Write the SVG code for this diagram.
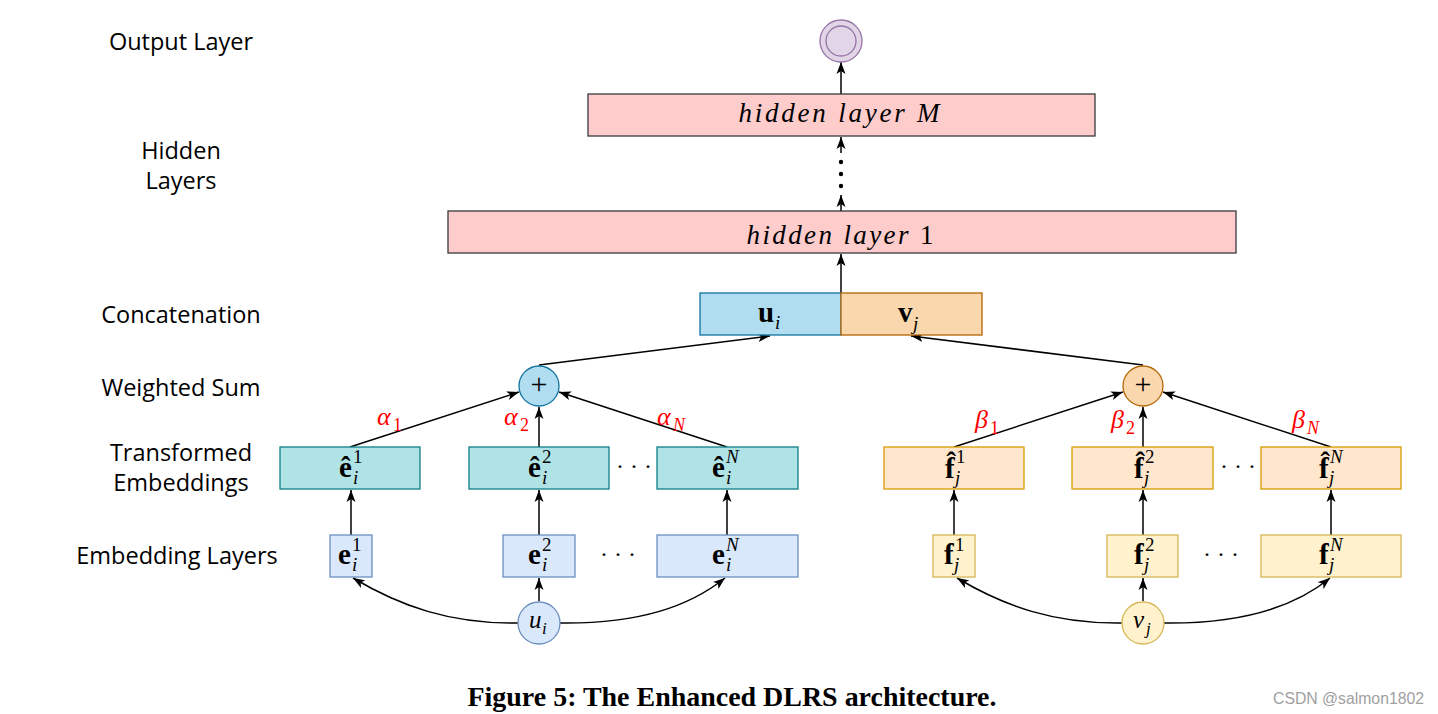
<svg xmlns="http://www.w3.org/2000/svg" width="1438" height="714" viewBox="0 0 1438 714">
<style>
.lbl{font-family:"Open Sans","Noto Sans",sans-serif;font-size:23.5px;text-anchor:middle;fill:#000}
.m{font-family:"Liberation Serif",serif;fill:#000}
.b{font-weight:bold}
.it{font-style:italic}
.red{fill:#ff0000}
.edge{stroke:#000;stroke-width:1.5;fill:none;marker-end:url(#arr)}
.hid{fill:#ffcccc;stroke:#36393d;stroke-width:1.3}
.emb{fill:#dae8fc;stroke:#6c8ebf;stroke-width:1.3}
.embf{fill:#fff2cc;stroke:#d6b656;stroke-width:1.3}
.tr{fill:#b0e3e6;stroke:#0e8088;stroke-width:1.3}
.trf{fill:#ffe6cc;stroke:#d79b00;stroke-width:1.3}
.blu{fill:#b1ddf0;stroke:#10739e;stroke-width:1.3}
.org{fill:#fad7ac;stroke:#b46504;stroke-width:1.3}
.mn{font-size:29px;font-weight:bold}
.sc{font-size:19px}
.dots{font-family:"Liberation Serif",serif;font-size:24px;fill:#000}
</style>
<defs>
<marker id="arr" markerUnits="userSpaceOnUse" markerWidth="13" markerHeight="10" refX="12" refY="5" orient="auto">
<path d="M0,0.5 L12,5 L0,9.5 L3,5 z" fill="#000"/>
</marker>
</defs>

<g id="row-labels">
<text class="lbl" x="181" y="50">Output Layer</text>
<text class="lbl" x="181" y="159">Hidden</text>
<text class="lbl" x="181" y="189">Layers</text>
<text class="lbl" x="181" y="323">Concatenation</text>
<text class="lbl" x="181" y="396">Weighted Sum</text>
<text class="lbl" x="181" y="461">Transformed</text>
<text class="lbl" x="181" y="491">Embeddings</text>
<text class="lbl" x="177" y="564">Embedding Layers</text>
</g>

<g id="connectors">
<line class="edge" x1="841" y1="94" x2="841" y2="62"/>
<line class="edge" x1="841" y1="211" x2="841" y2="195"/>
<line class="edge" x1="841" y1="153" x2="841" y2="137"/>
<line class="edge" x1="841" y1="293" x2="841" y2="254"/>
<line class="edge" x1="539" y1="365" x2="770" y2="336"/>
<line class="edge" x1="1143" y1="365" x2="911" y2="336"/>
<line class="edge" x1="350" y1="447" x2="519" y2="392"/>
<line class="edge" x1="539" y1="447" x2="539" y2="407"/>
<line class="edge" x1="727" y1="447" x2="559" y2="392"/>
<line class="edge" x1="954" y1="447" x2="1123" y2="392"/>
<line class="edge" x1="1143" y1="447" x2="1143" y2="407"/>
<line class="edge" x1="1331" y1="447" x2="1163" y2="392"/>
<line class="edge" x1="351" y1="535" x2="351" y2="490"/>
<line class="edge" x1="539" y1="535" x2="539" y2="490"/>
<line class="edge" x1="727" y1="535" x2="727" y2="490"/>
<line class="edge" x1="954" y1="535" x2="954" y2="490"/>
<line class="edge" x1="1143" y1="535" x2="1143" y2="490"/>
<line class="edge" x1="1331" y1="535" x2="1331" y2="490"/>
<line class="edge" x1="539" y1="601" x2="539" y2="578"/>
<line class="edge" x1="1143" y1="601" x2="1143" y2="578"/>
<path class="edge" d="M518,623 C450,624 400,606 353,578"/>
<path class="edge" d="M560,623 C640,624 690,606 725,578"/>
<path class="edge" d="M1122,623 C1054,624 1004,606 957,578"/>
<path class="edge" d="M1164,623 C1244,624 1296,606 1330,578"/>
</g>

<g id="layer-dots">
<circle cx="841" cy="162" r="2.2" fill="#000"/>
<circle cx="841" cy="174" r="2.2" fill="#000"/>
<circle cx="841" cy="186" r="2.2" fill="#000"/>
</g>

<g id="output">
<circle cx="841" cy="41" r="21" fill="#e1d5e7" stroke="#9673a6" stroke-width="1.3"/>
<circle cx="841" cy="41" r="15" fill="none" stroke="#9673a6" stroke-width="1.3"/>
</g>

<g id="hiddenM">
<rect class="hid" x="588" y="94" width="507" height="42"/>
<text class="m it" x="839" y="122" font-size="27" text-anchor="middle" textLength="201" lengthAdjust="spacing">hidden layer M</text>
</g>

<g id="hidden1">
<rect class="hid" x="448" y="211" width="788" height="42"/>
<text class="m" x="840" y="244" font-size="27" text-anchor="middle" textLength="187" lengthAdjust="spacing"><tspan class="it">hidden layer </tspan>1</text>
</g>

<g id="ui-concat">
<rect class="blu" x="700" y="293" width="141" height="42"/>
<text class="m"><tspan class="mn" x="758" y="322">u</tspan><tspan class="it sc" x="775" y="329">i</tspan></text>
</g>
<g id="vj-concat">
<rect class="org" x="841" y="293" width="141" height="42"/>
<text class="m"><tspan class="mn" x="898" y="322">v</tspan><tspan class="it sc" x="913" y="330">j</tspan></text>
</g>

<g id="sum-left">
<circle class="blu" cx="539" cy="386" r="20"/>
<text class="m" x="539" y="394" font-size="30" text-anchor="middle" fill="#222">+</text>
</g>
<g id="sum-right">
<circle class="org" cx="1143" cy="386" r="20"/>
<text class="m" x="1143" y="394" font-size="30" text-anchor="middle" fill="#222">+</text>
</g>

<g id="weights">
<text class="m red"><tspan class="it" x="377" y="425" font-size="26">α</tspan><tspan x="393" y="431" font-size="18">1</tspan></text>
<text class="m red"><tspan class="it" x="504" y="425" font-size="26">α</tspan><tspan x="520" y="431" font-size="18">2</tspan></text>
<text class="m red"><tspan class="it" x="657" y="425" font-size="26">α</tspan><tspan class="it" x="673" y="431" font-size="18">N</tspan></text>
<text class="m red"><tspan class="it" x="975" y="428" font-size="26">β</tspan><tspan x="990" y="434" font-size="18">1</tspan></text>
<text class="m red"><tspan class="it" x="1111" y="428" font-size="26">β</tspan><tspan x="1126" y="434" font-size="18">2</tspan></text>
<text class="m red"><tspan class="it" x="1292" y="428" font-size="26">β</tspan><tspan class="it" x="1307" y="434" font-size="18">N</tspan></text>
</g>

<g id="ehat1">
<rect class="tr" x="280" y="447" width="140" height="42"/>
<text class="m"><tspan class="mn" x="339" y="477">ê</tspan><tspan class="sc" x="353" y="463">1</tspan><tspan class="it sc" x="353" y="484">i</tspan></text>
</g>
<g id="ehat2">
<rect class="tr" x="469" y="447" width="140" height="42"/>
<text class="m"><tspan class="mn" x="528" y="477">ê</tspan><tspan class="sc" x="542" y="463">2</tspan><tspan class="it sc" x="542" y="484">i</tspan></text>
</g>
<text class="dots" x="616" y="474">· · ·</text>
<g id="ehatN">
<rect class="tr" x="657" y="447" width="141" height="42"/>
<text class="m"><tspan class="mn" x="712" y="477">ê</tspan><tspan class="it sc" x="726" y="463">N</tspan><tspan class="it sc" x="726" y="484">i</tspan></text>
</g>

<g id="fhat1">
<rect class="trf" x="884" y="447" width="140" height="42"/>
<text class="m"><tspan class="mn" x="945" y="478">f̂</tspan><tspan class="sc" x="956" y="463">1</tspan><tspan class="it sc" x="955" y="484">j</tspan></text>
</g>
<g id="fhat2">
<rect class="trf" x="1072" y="447" width="141" height="42"/>
<text class="m"><tspan class="mn" x="1134" y="478">f̂</tspan><tspan class="sc" x="1145" y="463">2</tspan><tspan class="it sc" x="1144" y="484">j</tspan></text>
</g>
<text class="dots" x="1220" y="474">· · ·</text>
<g id="fhatN">
<rect class="trf" x="1261" y="447" width="140" height="42"/>
<text class="m"><tspan class="mn" x="1319" y="478">f̂</tspan><tspan class="it sc" x="1330" y="463">N</tspan><tspan class="it sc" x="1329" y="484">j</tspan></text>
</g>

<g id="e1">
<rect class="emb" x="330" y="535" width="42" height="42"/>
<text class="m"><tspan class="mn" x="338" y="564">e</tspan><tspan class="sc" x="352" y="551">1</tspan><tspan class="it sc" x="352" y="571">i</tspan></text>
</g>
<g id="e2">
<rect class="emb" x="503" y="535" width="72" height="42"/>
<text class="m"><tspan class="mn" x="528" y="564">e</tspan><tspan class="sc" x="542" y="551">2</tspan><tspan class="it sc" x="542" y="571">i</tspan></text>
</g>
<text class="dots" x="600" y="562">· · ·</text>
<g id="eN">
<rect class="emb" x="657" y="535" width="141" height="42"/>
<text class="m"><tspan class="mn" x="712" y="564">e</tspan><tspan class="it sc" x="726" y="551">N</tspan><tspan class="it sc" x="726" y="571">i</tspan></text>
</g>

<g id="f1">
<rect class="embf" x="933" y="535" width="42" height="42"/>
<text class="m"><tspan class="mn" x="944" y="564">f</tspan><tspan class="sc" x="955" y="551">1</tspan><tspan class="it sc" x="954" y="571">j</tspan></text>
</g>
<g id="f2">
<rect class="embf" x="1107" y="535" width="71" height="42"/>
<text class="m"><tspan class="mn" x="1134" y="564">f</tspan><tspan class="sc" x="1145" y="551">2</tspan><tspan class="it sc" x="1144" y="571">j</tspan></text>
</g>
<text class="dots" x="1203" y="562">· · ·</text>
<g id="fN">
<rect class="embf" x="1261" y="535" width="140" height="42"/>
<text class="m"><tspan class="mn" x="1319" y="564">f</tspan><tspan class="it sc" x="1330" y="551">N</tspan><tspan class="it sc" x="1329" y="571">j</tspan></text>
</g>

<g id="ui">
<circle class="emb" cx="539" cy="623" r="21"/>
<text class="m it"><tspan x="529" y="628" font-size="25">u</tspan><tspan x="542" y="634" font-size="17">i</tspan></text>
</g>
<g id="vj">
<circle class="embf" cx="1143" cy="623" r="21"/>
<text class="m it"><tspan x="1133" y="628" font-size="25">v</tspan><tspan x="1146" y="634" font-size="17">j</tspan></text>
</g>

<g id="caption">
<text class="m b" x="732" y="706" font-size="28" text-anchor="middle" textLength="529" lengthAdjust="spacingAndGlyphs">Figure 5: The Enhanced DLRS architecture.</text>
<text x="1273" y="704" font-family="Liberation Sans,Arial,sans-serif" font-size="15.8" fill="#a0a0a0" textLength="151" lengthAdjust="spacingAndGlyphs">CSDN @salmon1802</text>
</g>
</svg>
